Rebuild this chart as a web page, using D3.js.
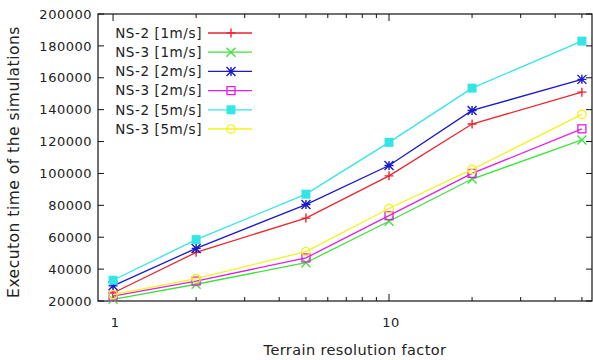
<!DOCTYPE html>
<html lang="en">
<head>
<meta charset="UTF-8">
<title>Execution time vs terrain resolution</title>
<script src="https://cdnjs.cloudflare.com/ajax/libs/d3/7.9.0/d3.min.js"></script>
<style>
  body{margin:0;background:#fff;}
  svg{display:block;font-family:"DejaVu Sans",Verdana,sans-serif;}
  .tick-label{font-size:13px;fill:#222;letter-spacing:.5px}
  .legend-label{font-size:13.5px;fill:#222;letter-spacing:.6px}
  .x-title{font-size:14.5px;fill:#222;letter-spacing:.4px}
  .y-title{font-size:15.5px;fill:#222;letter-spacing:.5px}
</style>
</head>
<body>
<div id="chart"></div>
<script>
/* ---------- data ---------- */
const factors = [1, 2, 5, 10, 20, 50];
const seriesNames = ["NS-2 [1m/s]","NS-3 [1m/s]","NS-2 [2m/s]","NS-3 [2m/s]","NS-2 [5m/s]","NS-3 [5m/s]"];
const ns2_1 = [25000, 50500, 72000, 98500, 131000, 151000];
const ns3_1 = [21000, 30500, 44000, 70000, 96500, 121000];
const ns2_2 = [29500, 53000, 80500, 105000, 139500, 159000];
const ns3_2 = [23000, 32500, 47000, 73500, 100000, 128000];
const ns2_5 = [33000, 58500, 87000, 119500, 153500, 183000];
const ns3_5 = [24000, 34000, 51000, 78000, 102500, 137000];
const yTicks = [20000,40000,60000,80000,100000,120000,140000,160000,180000,200000];
const xMajor = [1, 10];
const xMinor = [2,3,4,5,6,7,8,9,20,30,40,50];

const colors = ["#e8262e","#3de33d","#1a1ac8","#e020e0","#33e5e5","#f2f21e"];
const symbols = ["plus","cross","star","boxOpen","boxFilled","circle"];
const values = [ns2_1, ns3_1, ns2_2, ns3_2, ns2_5, ns3_5];

/* ---------- layout ---------- */
const W = 593, H = 360;
const L = 98, R = 592, T = 14, B = 301;

const svg = d3.select("#chart").append("svg").attr("width",W).attr("height",H);

const x = d3.scaleLog().domain([0.882, 54.4]).range([L, R]);
const y = d3.scaleLinear().domain([20000, 200000]).range([B, T]);

// frame
svg.append("rect").attr("x",L).attr("y",T).attr("width",R-L).attr("height",B-T)
  .attr("fill","none").attr("stroke","#111").attr("stroke-width",1.2);

// y ticks (both sides, inward)
const gy = svg.append("g");
yTicks.forEach(v=>{
  const yy = y(v);
  gy.append("line").attr("x1",L).attr("x2",L+6).attr("y1",yy).attr("y2",yy).attr("stroke","#111");
  gy.append("line").attr("x1",R-6).attr("x2",R).attr("y1",yy).attr("y2",yy).attr("stroke","#111");
  gy.append("text").attr("class","tick-label").attr("x",L-6).attr("y",yy).attr("dy","0.36em")
    .attr("text-anchor","end").text(v);
});

// x ticks (bottom and top, inward)
const gx = svg.append("g");
xMajor.concat(xMinor).forEach(v=>{
  const xx = x(v), len = xMajor.includes(v) ? 7 : 4;
  gx.append("line").attr("x1",xx).attr("x2",xx).attr("y1",B).attr("y2",B-len).attr("stroke","#111");
  gx.append("line").attr("x1",xx).attr("x2",xx).attr("y1",T).attr("y2",T+len).attr("stroke","#111");
});
xMajor.forEach(v=>{
  gx.append("text").attr("class","tick-label").attr("x",x(v)+2).attr("y",B+26)
    .attr("text-anchor","middle").text(v);
});

// axis titles
svg.append("text").attr("class","x-title").attr("x",355).attr("y",355)
  .attr("text-anchor","middle").text("Terrain resolution factor");
svg.append("text").attr("class","y-title")
  .attr("transform","translate(19,162) rotate(-90)")
  .attr("text-anchor","middle").text("Executon time of the simulations");

// point symbols
function drawSymbol(g, type, cx, cy, color){
  const s = 4.5;
  if(type==="plus"){
    g.append("path").attr("d",`M${cx-s},${cy}H${cx+s}M${cx},${cy-s}V${cy+s}`)
      .attr("stroke",color).attr("stroke-width",1.4).attr("fill","none");
  } else if(type==="cross"){
    g.append("path").attr("d",`M${cx-s},${cy-s}L${cx+s},${cy+s}M${cx-s},${cy+s}L${cx+s},${cy-s}`)
      .attr("stroke",color).attr("stroke-width",1.3).attr("fill","none");
  } else if(type==="star"){
    g.append("path").attr("d",`M${cx-s},${cy}H${cx+s}M${cx},${cy-s}V${cy+s}M${cx-s},${cy-s}L${cx+s},${cy+s}M${cx-s},${cy+s}L${cx+s},${cy-s}`)
      .attr("stroke",color).attr("stroke-width",1.4).attr("fill","none");
  } else if(type==="boxOpen"){
    g.append("rect").attr("x",cx-4).attr("y",cy-4).attr("width",8).attr("height",8)
      .attr("stroke",color).attr("stroke-width",1.3).attr("fill","none");
  } else if(type==="boxFilled"){
    g.append("rect").attr("x",cx-4.5).attr("y",cy-4.5).attr("width",9).attr("height",9)
      .attr("fill",color);
  } else {
    g.append("circle").attr("cx",cx).attr("cy",cy).attr("r",4.2)
      .attr("stroke",color).attr("stroke-width",1.3).attr("fill","none");
  }
}

const line = d3.line().x((d,i)=>x(factors[i])).y(d=>y(d));
const gs = svg.append("g");
values.forEach((vals,k)=>{
  gs.append("path").datum(vals).attr("d",line)
    .attr("fill","none").attr("stroke",colors[k]).attr("stroke-width",1.3);
  vals.forEach((v,i)=>drawSymbol(gs, symbols[k], x(factors[i]), y(v), colors[k]));
});

// legend
const gl = svg.append("g");
seriesNames.forEach((name,k)=>{
  const ly = 33 + k*19.2;
  gl.append("text").attr("class","legend-label").attr("x",202).attr("y",ly).attr("dy","0.36em")
    .attr("text-anchor","end").text(name);
  gl.append("line").attr("x1",208).attr("x2",252).attr("y1",ly).attr("y2",ly)
    .attr("stroke",colors[k]).attr("stroke-width",1.3);
  drawSymbol(gl, symbols[k], 231, ly, colors[k]);
});
</script>
</body>
</html>
